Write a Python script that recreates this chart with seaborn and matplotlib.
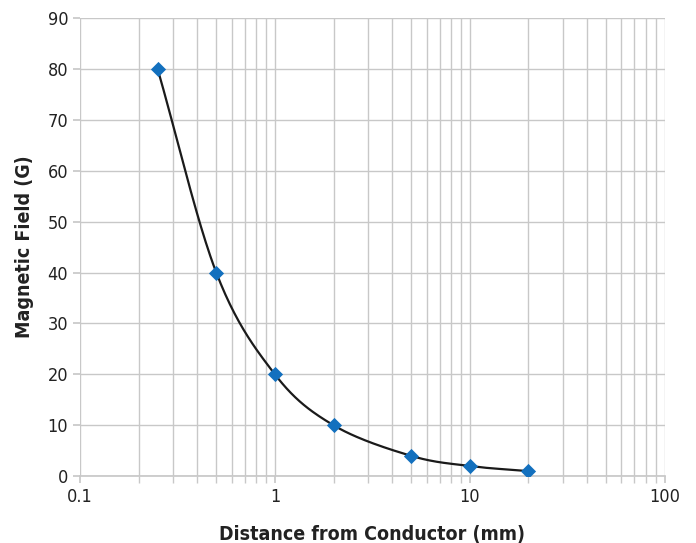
import numpy as np
import pandas as pd
import matplotlib
matplotlib.use("Agg")
import matplotlib.pyplot as plt
import seaborn as sns
from matplotlib.ticker import FixedLocator, FixedFormatter, LogLocator, NullFormatter

distance = [0.25, 0.5, 1, 2, 5, 10, 20]
field = [80, 40, 20, 10, 4, 2, 1]
x_ticks = [0.1, 1, 10, 100]
x_tick_labels = ["0.1", "1", "10", "100"]
y_ticks = [0, 10, 20, 30, 40, 50, 60, 70, 80, 90]

sns.set_theme(style="white")
plt.rcParams['font.family'] = ['DejaVu Sans']
plt.rcParams['font.stretch'] = 'condensed'

df = pd.DataFrame({"Distance": distance, "Field": field})

# smooth line: Catmull-Rom spline in (log10 x, y)
lx = np.log10(np.array(distance, dtype=float))
ly = np.array(field, dtype=float)
P = np.column_stack([lx * 30, ly])
Pext = np.vstack([2 * P[0] - P[1], P, 2 * P[-1] - P[-2]])
sx, sy = [], []
for i in range(1, len(Pext) - 2):
    p0, p1, p2, p3 = Pext[i - 1], Pext[i], Pext[i + 1], Pext[i + 2]
    t = np.linspace(0, 1, 40)[:, None]
    pts = 0.5 * ((2 * p1) + (-p0 + p2) * t + (2 * p0 - 5 * p1 + 4 * p2 - p3) * t**2
                 + (-p0 + 3 * p1 - 3 * p2 + p3) * t**3)
    sx.extend(10 ** (pts[:, 0] / 30)); sy.extend(pts[:, 1])
smooth = pd.DataFrame({"Distance": sx, "Field": sy})

fig = plt.figure(figsize=(6.96, 5.43), dpi=100)
ax = fig.add_axes([0.115, 0.123, 0.840, 0.844])
ax.set_xscale("log")
sns.lineplot(data=smooth, x="Distance", y="Field", ax=ax, color="#1a1a1a", lw=1.6, sort=False, zorder=3)
sns.scatterplot(data=df, x="Distance", y="Field", ax=ax, marker="D", s=60, color="#1370be",
                edgecolor="#1370be", linewidth=0, zorder=4)

ax.set_xlim(0.1, 100)
ax.set_ylim(0, 90)
ax.xaxis.set_major_locator(FixedLocator(x_ticks))
ax.xaxis.set_major_formatter(FixedFormatter(x_tick_labels))
ax.xaxis.set_minor_locator(LogLocator(base=10, subs=np.arange(2, 10)))
ax.xaxis.set_minor_formatter(NullFormatter())
ax.set_yticks(y_ticks)
ax.grid(True, which="major", color="#c8c8c8", lw=1)
ax.grid(True, which="minor", axis="x", color="#c8c8c8", lw=1)
for s in ["top", "right", "left"]:
    ax.spines[s].set_visible(False)
ax.spines["bottom"].set_color("#c8c8c8")
ax.tick_params(axis="both", which="both", length=5, color="#c8c8c8", labelsize=13, labelcolor="#222222", bottom=True, left=True)
ax.tick_params(axis="x", which="minor", length=5)
ax.set_xlabel("Distance from Conductor (mm)", fontsize=14, fontweight="bold", color="#222222", labelpad=14)
ax.set_ylabel("Magnetic Field (G)", fontsize=14, fontweight="bold", color="#222222", labelpad=10)

fig.savefig("out.png", dpi=100)
